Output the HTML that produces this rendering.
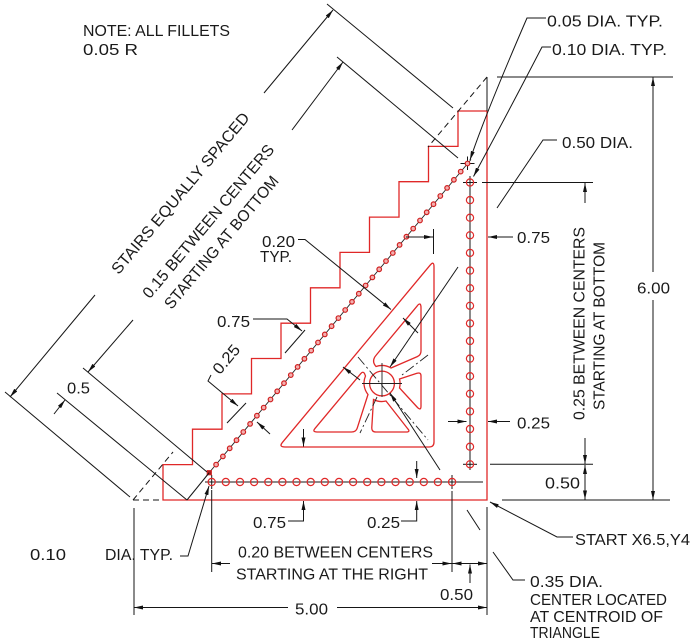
<!DOCTYPE html>
<html><head><meta charset="utf-8"><style>
html,body{margin:0;padding:0;background:#fff;}
svg{display:block;}
text{font-family:"Liberation Sans",sans-serif;font-size:16px;fill:#1a1a1a;}
.k{stroke:#161616;stroke-width:1;fill:none;}
.r{stroke:#e02828;stroke-width:1.3;fill:none;}
.h{stroke:#e02828;stroke-width:1.2;fill:none;}
.s{stroke:#d02020;stroke-width:1.2;fill:#f3b0b0;}
.c{stroke:#222;stroke-width:0.9;fill:none;}
.cd{stroke:#222;stroke-width:0.9;fill:none;stroke-dasharray:10 3 2 3;}
.d{stroke:#161616;stroke-width:1;fill:none;stroke-dasharray:6 4;}
</style></head><body>
<svg width="696" height="640" viewBox="0 0 696 640" xmlns="http://www.w3.org/2000/svg">
<defs>
<marker id="a" viewBox="0 0 9 4" refX="9" refY="2" markerWidth="9" markerHeight="4" markerUnits="userSpaceOnUse" orient="auto"><path d="M0,0L9,2L0,4Z" fill="#111"/></marker>
</defs>
<rect width="696" height="640" fill="#fff"/>

<!-- red outer stair outline -->
<path class="r" d="M487,500 L487,111 L458,111 L458,146.4 L428.5,146.4 L428.5,181.7 L399,181.7 L399,217.1 L369.5,217.1 L369.5,252.4 L340,252.4 L340,287.8 L310.5,287.8 L310.5,323.2 L281,323.2 L281,358.5 L251.5,358.5 L251.5,393.9 L222,393.9 L222,429.2 L192.5,429.2 L192.5,464.6 L163,464.6 L163,500 Z"/>

<!-- big pocket triangle -->
<path class="r" d="M285,447 L429,447 Q434,447 434,442 L434,267 Q434,260.5 430.2,265.1 L282.4,442.4 Q278.6,447 285,447 Z"/>
<!-- upper pocket -->
<path class="r" d="M376,366.5 Q371,361 376.3,355 L417.2,305.9 Q421,301.3 421,308 L421,351 Q421,355 417.3,356.6 L391,368 A18 18 0 0 0 376,366.5 Z"/>
<!-- right pocket -->
<path class="r" d="M399.5,379 L417,373.3 Q421,372 421,376 L421,406 Q421,411 417.5,407.5 L399.5,388 A18 18 0 0 0 399.5,379 Z"/>
<!-- lower pocket -->
<path class="r" d="M386,401 L407.5,428.5 Q411,432 406,432 L376,432 Q371.5,432 371.8,427.5 L373.5,399.5 A18 18 0 0 0 386,401 Z"/>
<!-- lower-left pocket -->
<path class="r" d="M317,432 L351.5,432 Q356,432 357.2,428.2 L368,394.5 A18 18 0 0 1 365.5,376 L364.5,373.5 Q363,371 360.8,373.6 L315,428.4 Q312,432 317,432 Z"/>
<!-- center hole -->
<circle class="r" cx="382" cy="383.5" r="12.4"/>

<!-- pocket centerlines -->
<line class="cd" x1="358" y1="357" x2="428" y2="440"/>
<line class="cd" x1="428" y1="355" x2="402" y2="375"/>
<line class="cd" x1="377" y1="397" x2="360" y2="433"/>
<line class="c" x1="362" y1="383.5" x2="402" y2="383.5"/>
<line class="c" x1="382" y1="363" x2="382" y2="397"/>

<!-- hole centerlines -->
<line class="c" x1="206" y1="476.5" x2="471" y2="159.5"/>
<line class="k" x1="205" y1="482" x2="483" y2="482"/>
<line class="k" x1="470" y1="176" x2="470" y2="470"/>

<!-- crosshairs -->
<line class="k" x1="205" y1="482" x2="218" y2="482"/><line class="k" x1="211.7" y1="475" x2="211.7" y2="489"/>
<line class="k" x1="445" y1="482" x2="459" y2="482"/><line class="k" x1="452" y1="475" x2="452" y2="489"/>
<line class="k" x1="463" y1="182.5" x2="477" y2="182.5"/>
<line class="k" x1="463" y1="464.3" x2="477" y2="464.3"/>
<line class="k" x1="460.5" y1="163.5" x2="474.5" y2="163.5"/><line class="k" x1="467.5" y1="156.5" x2="467.5" y2="170"/>

<!-- row holes -->
<g class="h">
<circle cx="211.7" cy="482" r="3.6"/><circle cx="225.8" cy="482" r="3.6"/><circle cx="240" cy="482" r="3.6"/><circle cx="254.1" cy="482" r="3.6"/><circle cx="268.3" cy="482" r="3.6"/><circle cx="282.4" cy="482" r="3.6"/><circle cx="296.5" cy="482" r="3.6"/><circle cx="310.7" cy="482" r="3.6"/><circle cx="324.8" cy="482" r="3.6"/><circle cx="339" cy="482" r="3.6"/><circle cx="353.1" cy="482" r="3.6"/><circle cx="367.2" cy="482" r="3.6"/><circle cx="381.4" cy="482" r="3.6"/><circle cx="395.5" cy="482" r="3.6"/><circle cx="409.7" cy="482" r="3.6"/><circle cx="423.8" cy="482" r="3.6"/><circle cx="437.9" cy="482" r="3.6"/><circle cx="452.1" cy="482" r="3.6"/>
<!-- column holes -->
<circle cx="470" cy="182.5" r="3.6"/><circle cx="470" cy="200.1" r="3.6"/><circle cx="470" cy="217.7" r="3.6"/><circle cx="470" cy="235.3" r="3.6"/><circle cx="470" cy="252.9" r="3.6"/><circle cx="470" cy="270.6" r="3.6"/><circle cx="470" cy="288.2" r="3.6"/><circle cx="470" cy="305.8" r="3.6"/><circle cx="470" cy="323.4" r="3.6"/><circle cx="470" cy="341" r="3.6"/><circle cx="470" cy="358.6" r="3.6"/><circle cx="470" cy="376.2" r="3.6"/><circle cx="470" cy="393.8" r="3.6"/><circle cx="470" cy="411.4" r="3.6"/><circle cx="470" cy="429" r="3.6"/><circle cx="470" cy="446.7" r="3.6"/><circle cx="470" cy="464.3" r="3.6"/>
</g>
<!-- diagonal small holes -->
<g class="s">
<rect x="207.3" y="470.7" width="4" height="4" fill="#a02020"/>
<circle cx="216.1" cy="464.6" r="2.3"/><circle cx="222.9" cy="456.4" r="2.3"/><circle cx="229.7" cy="448.3" r="2.3"/><circle cx="236.5" cy="440.2" r="2.3"/><circle cx="243.3" cy="432" r="2.3"/><circle cx="250.1" cy="423.9" r="2.3"/><circle cx="256.9" cy="415.7" r="2.3"/><circle cx="263.7" cy="407.6" r="2.3"/><circle cx="270.5" cy="399.5" r="2.3"/><circle cx="277.2" cy="391.3" r="2.3"/><circle cx="284" cy="383.2" r="2.3"/><circle cx="290.8" cy="375.1" r="2.3"/><circle cx="297.6" cy="366.9" r="2.3"/><circle cx="304.4" cy="358.8" r="2.3"/><circle cx="311.2" cy="350.6" r="2.3"/><circle cx="318" cy="342.5" r="2.3"/><circle cx="324.8" cy="334.4" r="2.3"/><circle cx="331.6" cy="326.2" r="2.3"/><circle cx="338.4" cy="318.1" r="2.3"/><circle cx="345.2" cy="310" r="2.3"/><circle cx="352" cy="301.8" r="2.3"/><circle cx="358.8" cy="293.7" r="2.3"/><circle cx="365.6" cy="285.5" r="2.3"/><circle cx="372.4" cy="277.4" r="2.3"/><circle cx="379.2" cy="269.3" r="2.3"/><circle cx="386" cy="261.1" r="2.3"/><circle cx="392.8" cy="253" r="2.3"/><circle cx="399.6" cy="244.9" r="2.3"/><circle cx="406.4" cy="236.7" r="2.3"/><circle cx="413.2" cy="228.6" r="2.3"/><circle cx="420" cy="220.5" r="2.3"/><circle cx="426.7" cy="212.3" r="2.3"/><circle cx="433.5" cy="204.2" r="2.3"/><circle cx="440.3" cy="196" r="2.3"/><circle cx="447.1" cy="187.9" r="2.3"/><circle cx="453.9" cy="179.8" r="2.3"/><circle cx="460.7" cy="171.6" r="2.3"/><circle cx="467.5" cy="163.5" r="2.3"/>
</g>

<!-- construction / dashed lines -->
<line class="k" x1="487" y1="77" x2="487" y2="111"/>
<line class="d" x1="487" y1="77" x2="428" y2="147"/>
<line class="d" x1="133" y1="500" x2="173" y2="452"/>
<line class="d" x1="133" y1="500" x2="163" y2="500"/>

<!-- Dim 1: STAIRS EQUALLY SPACED -->
<line class="k" x1="264" y1="93" x2="333" y2="10" marker-end="url(#a)"/>
<line class="k" x1="95" y1="295" x2="10" y2="397" marker-end="url(#a)"/>
<line class="k" x1="327" y1="4" x2="453" y2="108"/>
<line class="k" x1="5" y1="392" x2="130" y2="497"/>
<!-- Dim 2: 0.15 between centers -->
<line class="k" x1="292" y1="130" x2="343" y2="62" marker-end="url(#a)"/>
<line class="k" x1="133" y1="320" x2="88" y2="372" marker-end="url(#a)"/>
<line class="k" x1="337" y1="57" x2="458" y2="158"/>
<line class="k" x1="83" y1="368" x2="207" y2="472"/>
<!-- 0.5 -->
<line class="k" x1="54" y1="414" x2="65" y2="400" marker-end="url(#a)"/>
<line class="k" x1="57" y1="393" x2="187" y2="500"/>
<line class="k" x1="187" y1="500" x2="209" y2="473"/>

<!-- stair dims -->
<path class="k" d="M180,556 L188,556 L209,486" marker-end="url(#a)"/>
<path class="k" d="M253,319 L287,319 L302,331" marker-end="url(#a)"/>
<line class="k" x1="285" y1="353" x2="305" y2="330"/>
<path class="k" d="M211,375 L208,381 L238,406" marker-end="url(#a)"/>
<line class="k" x1="227" y1="423" x2="246" y2="403"/>
<line class="k" x1="270" y1="434" x2="257" y2="422" marker-end="url(#a)"/>

<!-- 0.20 TYP -->
<path class="k" d="M298,239.5 L305,239.5 L391,309.5" marker-end="url(#a)"/>
<line class="k" x1="418" y1="333" x2="403" y2="318" marker-end="url(#a)"/>
<line class="k" x1="360" y1="380" x2="343" y2="367" marker-end="url(#a)"/>

<!-- right 0.75 -->
<line class="k" x1="406" y1="237" x2="433" y2="237" marker-end="url(#a)"/>
<line class="k" x1="433.5" y1="229" x2="433.5" y2="254"/>
<line class="k" x1="513" y1="237" x2="488" y2="237" marker-end="url(#a)"/>
<!-- right 0.25 -->
<line class="k" x1="448" y1="421.5" x2="466.5" y2="421.5" marker-end="url(#a)"/>
<line class="k" x1="510" y1="421.5" x2="488" y2="421.5" marker-end="url(#a)"/>

<!-- bottom 0.75 / 0.25 -->
<path class="k" d="M288,521 L303.5,521 L303.5,501" marker-end="url(#a)"/>
<line class="k" x1="303.5" y1="429" x2="303.5" y2="446.5" marker-end="url(#a)"/>
<path class="k" d="M401,521 L416.7,521 L416.7,501" marker-end="url(#a)"/>
<line class="k" x1="416.7" y1="461" x2="416.7" y2="478" marker-end="url(#a)"/>

<!-- 0.20 between centers / 0.50 -->
<line class="k" x1="211.7" y1="490" x2="211.7" y2="572"/>
<line class="k" x1="230" y1="563.5" x2="212" y2="563.5" marker-end="url(#a)"/>
<line class="k" x1="452" y1="491" x2="452" y2="572"/>
<line class="k" x1="432" y1="563.5" x2="451.5" y2="563.5" marker-end="url(#a)"/>
<line class="k" x1="470" y1="563.5" x2="452.5" y2="563.5" marker-end="url(#a)"/>
<line class="k" x1="470" y1="563.5" x2="487" y2="563.5" marker-end="url(#a)"/>
<line class="k" x1="470" y1="583" x2="470" y2="564.5" marker-end="url(#a)"/>
<line class="k" x1="487" y1="507" x2="487" y2="615"/>
<!-- 5.00 -->
<line class="k" x1="134" y1="508" x2="134" y2="615"/>
<line class="k" x1="288" y1="607.5" x2="134" y2="607.5" marker-end="url(#a)"/>
<line class="k" x1="337" y1="607.5" x2="487" y2="607.5" marker-end="url(#a)"/>

<!-- right side dims -->
<line class="k" x1="497" y1="77" x2="673" y2="77"/>
<line class="k" x1="502" y1="500" x2="670" y2="500"/>
<line class="k" x1="653" y1="272" x2="653" y2="77" marker-end="url(#a)"/>
<line class="k" x1="653" y1="300" x2="653" y2="500" marker-end="url(#a)"/>
<line class="k" x1="482" y1="182.5" x2="593" y2="182.5"/>
<line class="k" x1="585" y1="203" x2="585" y2="183" marker-end="url(#a)"/>
<line class="k" x1="490" y1="464.3" x2="593" y2="464.3"/>
<line class="k" x1="585" y1="438" x2="585" y2="464" marker-end="url(#a)"/>
<line class="k" x1="585" y1="482" x2="585" y2="465" marker-end="url(#a)"/>
<line class="k" x1="585" y1="482" x2="585" y2="499.5" marker-end="url(#a)"/>

<!-- leaders -->
<path class="k" d="M573,537 L557,537 L490,502" marker-end="url(#a)"/>
<path class="k" d="M525,580 L513,580 L493,552"/>
<line class="k" x1="480" y1="530" x2="467" y2="510"/>
<line class="k" x1="440" y1="470" x2="390" y2="393" marker-end="url(#a)"/>
<path class="k" d="M557,140 L543,140 L497,208"/>
<line class="k" x1="458" y1="267" x2="390" y2="367" marker-end="url(#a)"/>
<path class="k" d="M546,18 L527,18 Q485,115 470,160" marker-end="url(#a)"/>
<path class="k" d="M551,47 L542,47 Q512,105 473.5,176.5" marker-end="url(#a)"/>

<!-- text -->
<text x="83" y="36" textLength="147" lengthAdjust="spacingAndGlyphs">NOTE: ALL FILLETS</text>
<text x="83" y="55" textLength="55" lengthAdjust="spacingAndGlyphs">0.05 R</text>
<text x="547" y="26.5" textLength="116" lengthAdjust="spacingAndGlyphs">0.05 DIA. TYP.</text>
<text x="552" y="55" textLength="115" lengthAdjust="spacingAndGlyphs">0.10 DIA. TYP.</text>
<text x="562" y="148" textLength="71" lengthAdjust="spacingAndGlyphs">0.50 DIA.</text>
<text x="517" y="243" textLength="33" lengthAdjust="spacingAndGlyphs">0.75</text>
<text x="637" y="293.5" textLength="33" lengthAdjust="spacingAndGlyphs">6.00</text>
<text x="517" y="428.5" textLength="33" lengthAdjust="spacingAndGlyphs">0.25</text>
<text x="545" y="488.5" textLength="35" lengthAdjust="spacingAndGlyphs">0.50</text>
<text x="575" y="545" textLength="115" lengthAdjust="spacingAndGlyphs">START X6.5,Y4</text>
<text x="530" y="587" textLength="73" lengthAdjust="spacingAndGlyphs">0.35 DIA.</text>
<text x="530" y="605" textLength="137" lengthAdjust="spacingAndGlyphs">CENTER LOCATED</text>
<text x="530" y="622" textLength="133" lengthAdjust="spacingAndGlyphs">AT CENTROID OF</text>
<text x="530" y="638" textLength="70" lengthAdjust="spacingAndGlyphs">TRIANGLE</text>
<text x="440" y="600" textLength="33" lengthAdjust="spacingAndGlyphs">0.50</text>
<text x="238" y="557.5" textLength="195" lengthAdjust="spacingAndGlyphs">0.20 BETWEEN CENTERS</text>
<text x="236" y="579.5" textLength="192" lengthAdjust="spacingAndGlyphs">STARTING AT THE RIGHT</text>
<text x="295" y="614.5" textLength="33" lengthAdjust="spacingAndGlyphs">5.00</text>
<text x="253" y="528" textLength="33" lengthAdjust="spacingAndGlyphs">0.75</text>
<text x="367" y="528" textLength="33" lengthAdjust="spacingAndGlyphs">0.25</text>
<text x="30" y="560" textLength="36" lengthAdjust="spacingAndGlyphs">0.10</text>
<text x="105" y="560" textLength="68" lengthAdjust="spacingAndGlyphs">DIA. TYP.</text>
<text x="217" y="327" textLength="33" lengthAdjust="spacingAndGlyphs">0.75</text>
<text x="262" y="247" textLength="33" lengthAdjust="spacingAndGlyphs">0.20</text>
<text x="260" y="262" textLength="32" lengthAdjust="spacingAndGlyphs">TYP.</text>
<text x="67" y="393.5" textLength="23" lengthAdjust="spacingAndGlyphs">0.5</text>

<g transform="translate(180,193) rotate(-50)"><text x="0" y="5.8" text-anchor="middle" textLength="205" lengthAdjust="spacingAndGlyphs">STAIRS EQUALLY SPACED</text></g>
<g transform="translate(208,221) rotate(-50)"><text x="0" y="5.8" text-anchor="middle" textLength="195" lengthAdjust="spacingAndGlyphs">0.15 BETWEEN CENTERS</text></g>
<g transform="translate(221,242) rotate(-50)"><text x="0" y="5.8" text-anchor="middle" textLength="168" lengthAdjust="spacingAndGlyphs">STARTING AT BOTTOM</text></g>
<g transform="translate(226,359) rotate(-50)"><text x="0" y="5.8" text-anchor="middle" textLength="33" lengthAdjust="spacingAndGlyphs">0.25</text></g>
<g transform="translate(578.5,323.5) rotate(-90)"><text x="0" y="5.8" text-anchor="middle" textLength="193" lengthAdjust="spacingAndGlyphs">0.25 BETWEEN CENTERS</text></g>
<g transform="translate(598.5,326) rotate(-90)"><text x="0" y="5.8" text-anchor="middle" textLength="168" lengthAdjust="spacingAndGlyphs">STARTING AT BOTTOM</text></g>
</svg>
</body></html>
